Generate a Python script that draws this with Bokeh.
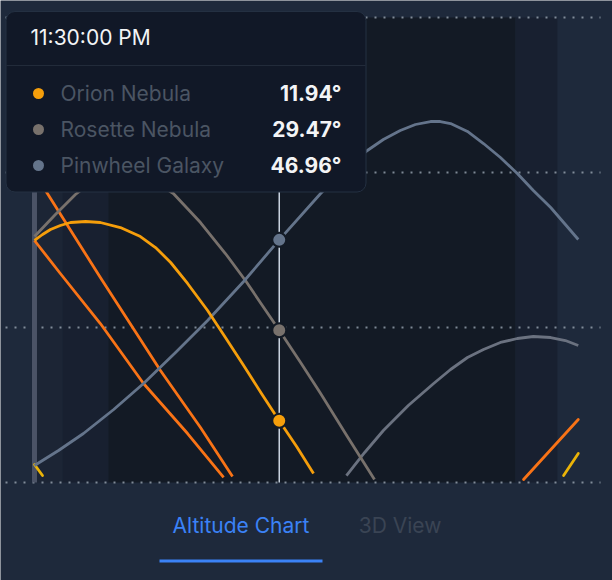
from bokeh.plotting import figure
from bokeh.models import Range1d, Label, BoxAnnotation
from bokeh.embed import file_html
from bokeh.resources import INLINE

# ---------------- data ----------------
# time: hours after midnight of the evening's date (values > 24 are after midnight)
orion_t   = [18.00, 18.18, 18.36, 18.58, 18.81, 19.15, 19.48, 19.93, 20.38, 20.72, 21.06, 21.44,
             21.89, 22.29, 22.70, 23.10, 23.50, 23.89, 24.27]
orion_alt = [46.84, 48.00, 48.97, 49.74, 50.32, 50.52, 50.32, 49.35, 47.61, 45.48, 42.58, 38.52,
             33.29, 28.06, 22.65, 17.23, 11.94, 6.97, 1.74]

rosette_t   = [18.00, 18.47, 18.92, 19.48, 19.98, 20.49, 21.12, 21.73, 22.29, 22.74, 23.12,
               23.50, 23.98, 24.43, 25.03, 25.64]
rosette_alt = [47.61, 51.87, 55.74, 59.42, 60.77, 59.42, 55.94, 50.32, 44.32, 39.10, 34.26,
               29.47, 23.23, 17.23, 8.90, 0.58]

pinwheel_t   = [18.00, 18.54, 19.10, 19.78, 20.45, 21.17, 21.89, 22.70, 23.50, 24.43, 24.94,
                25.48, 25.84, 26.22, 26.56, 26.90, 27.12, 27.35, 27.73, 28.09, 28.47, 28.85,
                29.21, 29.60, 29.93, 30.22]
pinwheel_alt = [3.29, 6.19, 9.48, 14.13, 19.16, 25.16, 31.35, 38.90, 46.96, 55.94, 60.19,
                64.26, 66.39, 68.13, 69.29, 69.87, 69.87, 69.48, 67.94, 65.61, 62.90, 59.81,
                56.52, 53.23, 49.94, 47.03]

arch_t   = [25.01, 25.42, 25.84, 26.40, 26.97, 27.35, 27.73, 28.09, 28.47, 28.85, 29.21, 29.60,
            29.93, 30.22]
arch_alt = [1.35, 5.81, 10.06, 14.90, 19.16, 21.87, 24.19, 25.74, 27.10, 27.87, 28.26, 28.06,
            27.48, 26.52]

orange_a_t   = [18.00, 18.58, 19.48, 20.45, 21.44, 22.25]
orange_a_alt = [46.84, 40.45, 30.77, 19.16, 9.48, 0.97]
orange_b_t   = [18.00, 18.29, 19.48, 20.83, 21.73, 22.45]
orange_b_alt = [59.81, 55.94, 39.68, 21.68, 10.65, 1.16]
orange_c_t   = [28.99, 30.22]
orange_c_alt = [0.58, 12.19]

yellow_a_t   = [18.00, 18.18]
yellow_a_alt = [3.48, 1.35]
yellow_b_t   = [29.89, 30.22]
yellow_b_alt = [1.35, 5.61]

# twilight phases (hours)
band_left  = [18.00, 18.63, 19.66, 28.81]
band_right = [18.63, 19.66, 28.81, 29.75]
band_color = ["#1c2535", "#182030", "#131a25", "#182030"]

alt_grid = [0, 30, 60, 90]
marker_t = 18.00

cursor_t = 23.5
cursor_label = "11:30:00 PM"
target_names  = ["Orion Nebula", "Rosette Nebula", "Pinwheel Galaxy"]
target_values = [11.94, 29.47, 46.96]
target_colors = ["#f59e0b", "#78716c", "#64748b"]

tab_labels = ["Altitude Chart", "3D View"]

# ---------------- layout ----------------
W, H = 612, 580
X0, X1 = 17.236, 30.989
Y0, Y1 = -18.968, 93.290
def dx(px):
    return X0 + px * (X1 - X0) / W
def dy(py):
    return Y1 - py * (Y1 - Y0) / H
TXT_SHIFT = -8  # empirical baseline correction (px)

BG = "#1e293b"
FONT = "Inter"

p = figure(width=W, height=H, output_backend="svg", toolbar_location=None,
           x_range=Range1d(X0, X1), y_range=Range1d(Y0, Y1),
           x_axis_location=None, y_axis_location=None,
           min_border=0, min_border_left=0, min_border_right=0,
           min_border_top=0, min_border_bottom=0)
p.grid.visible = False
p.outline_line_color = None
p.background_fill_color = BG
p.border_fill_color = BG

# twilight bands
p.quad(left=band_left, right=band_right, bottom=0, top=90,
       fill_color=band_color, line_color=None)

# dotted altitude grid
for g in alt_grid:
    p.segment(x0=dx(5), x1=dx(600), y0=g, y1=g, line_color="#a3adba",
              line_width=2, line_dash="2 7", line_alpha=0.75)

# marker bar
p.segment(x0=marker_t, x1=marker_t, y0=0, y1=90, line_color="#4b5366", line_width=5)

LW = 2.8
p.line(orange_a_t, orange_a_alt, line_color="#f97316", line_width=LW, line_join="round")
p.line(orange_b_t, orange_b_alt, line_color="#f97316", line_width=LW, line_join="round")
p.line(orange_c_t, orange_c_alt, line_color="#f97316", line_width=LW, line_cap="round")
p.line(yellow_a_t, yellow_a_alt, line_color="#eab308", line_width=LW, line_cap="round")
p.line(yellow_b_t, yellow_b_alt, line_color="#eab308", line_width=LW, line_cap="round")
p.line(arch_t, arch_alt, line_color="#6b7280", line_width=LW, line_join="round")
p.line(rosette_t, rosette_alt, line_color=target_colors[1], line_width=LW, line_join="round")
p.line(pinwheel_t, pinwheel_alt, line_color=target_colors[2], line_width=LW, line_join="round")
p.line(orion_t, orion_alt, line_color=target_colors[0], line_width=LW, line_join="round")

# crosshair
p.segment(x0=cursor_t, x1=cursor_t, y0=0, y1=90, line_color="#cbd5e1", line_width=1.5)
p.scatter([cursor_t] * 3, target_values, size=14, fill_color=target_colors,
          line_color="#131a25", line_width=2)

# tooltip
box = BoxAnnotation(left=dx(5.5), right=dx(365.5), top=dy(11), bottom=dy(191.5),
                    fill_color="#111827", fill_alpha=1.0, line_color="#243042",
                    line_alpha=1.0, line_width=1, border_radius=9, level="annotation")
p.add_layout(box)
p.segment(x0=dx(6), x1=dx(365), y0=dy(65), y1=dy(65), line_color="#222b3a",
          line_width=1, level="overlay")
p.add_layout(Label(x=dx(30), y=dy(45 + TXT_SHIFT), text=cursor_label, text_font=FONT,
                   text_font_size="21px", text_color="#f3f4f6",
                   text_baseline="alphabetic", level="overlay"))
row_y = [93, 129, 165]
p.scatter([dx(38)] * 3, [dy(v) for v in row_y], size=11, fill_color=target_colors,
          line_color=None, level="overlay")
for i, name in enumerate(target_names):
    base = row_y[i] + 7.5 + TXT_SHIFT
    p.add_layout(Label(x=dx(60), y=dy(base), text=name, text_font=FONT,
                       text_font_size="21px", text_color="#4b5563",
                       text_baseline="alphabetic", level="overlay"))
    p.add_layout(Label(x=dx(341), y=dy(base), text=f"{target_values[i]:.2f}°",
                       text_font=FONT, text_font_size="21px", text_font_style="bold",
                       text_color="#f3f4f6", text_align="right",
                       text_baseline="alphabetic", level="overlay"))

# tabs
p.add_layout(Label(x=dx(240.5), y=dy(533 + TXT_SHIFT), text=tab_labels[0], text_font=FONT,
                   text_font_size="21px", text_color="#3b82f6", text_align="center",
                   text_baseline="alphabetic", level="overlay"))
p.add_layout(Label(x=dx(399.5), y=dy(533 + TXT_SHIFT), text=tab_labels[1], text_font=FONT,
                   text_font_size="21px", text_color="#3a4454", text_align="center",
                   text_baseline="alphabetic", level="overlay"))
p.segment(x0=dx(159), x1=dx(322), y0=dy(560.5), y1=dy(560.5), line_color="#3b82f6",
          line_width=3, level="overlay")

open("out.html", "w").write(file_html(p, INLINE))
